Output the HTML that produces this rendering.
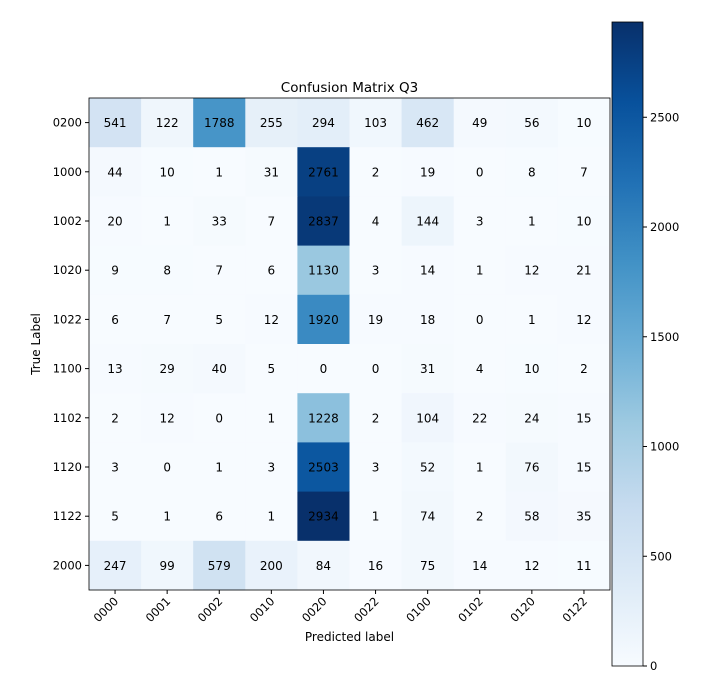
<!DOCTYPE html>
<html><head><meta charset="utf-8"><style>
body{margin:0;background:#fff;}
svg{font-family:"DejaVu Sans","Liberation Sans",sans-serif;}
</style></head><body>
<svg id="c" width="710" height="676" xmlns="http://www.w3.org/2000/svg"></svg>
<script>
const xLabels=["0000","0001","0002","0010","0020","0022","0100","0102","0120","0122"];
const yLabels=["0200","1000","1002","1020","1022","1100","1102","1120","1122","2000"];
const row0=[541,122,1788,255,294,103,462,49,56,10];
const row1=[44,10,1,31,2761,2,19,0,8,7];
const row2=[20,1,33,7,2837,4,144,3,1,10];
const row3=[9,8,7,6,1130,3,14,1,12,21];
const row4=[6,7,5,12,1920,19,18,0,1,12];
const row5=[13,29,40,5,0,0,31,4,10,2];
const row6=[2,12,0,1,1228,2,104,22,24,15];
const row7=[3,0,1,3,2503,3,52,1,76,15];
const row8=[5,1,6,1,2934,1,74,2,58,35];
const row9=[247,99,579,200,84,16,75,14,12,11];
const cbTicks=[0,500,1000,1500,2000,2500];
const matrix=[row0,row1,row2,row3,row4,row5,row6,row7,row8,row9];
const NS="http://www.w3.org/2000/svg";
const svg=document.getElementById('c');
function el(t,a,p){const e=document.createElementNS(NS,t);for(const k in a)e.setAttribute(k,a[k]);(p||svg).appendChild(e);return e;}
const stops=["#f7fbff","#deebf7","#c6dbef","#9ecae1","#6baed6","#4292c6","#2171b5","#08519c","#08306b"].map(h=>[1,3,5].map(i=>parseInt(h.substr(i,2),16)));
function cmap(t){t=Math.max(0,Math.min(1,t))*8;const i=Math.min(7,Math.floor(t)),f=t-i;const a=stops[i],b=stops[i+1];return "rgb("+a.map((v,k)=>Math.round(v+(b[k]-v)*f)).join(",")+")";}
const vmax=Math.max(...matrix.flat()),vmin=0;
const L=89,R=610,T=98,B=590;
const cw=(R-L)/xLabels.length,ch=(B-T)/yLabels.length;
const xs=i=>L+i*cw, ys=j=>T+j*ch;
matrix.forEach((row,j)=>row.forEach((v,i)=>{
  const r=el('rect',{x:xs(i),y:ys(j),width:cw+0.5,height:ch+0.5,fill:cmap((v-vmin)/(vmax-vmin))});
  
  
  const t=el('text',{x:xs(i)+cw/2,y:ys(j)+ch/2+4.5,'text-anchor':'middle','font-size':12,fill:'#000'});
  t.textContent=v;
  
  
}));
el('rect',{x:L,y:T,width:R-L,height:B-T,fill:'none',stroke:'#000','stroke-width':0.8,});
xLabels.forEach((l,i)=>{
  const x=xs(i)+cw/2;
  el('line',{x1:x,y1:B,x2:x,y2:B+4,stroke:'#000'});
  const t=el('text',{x:0,y:0,'text-anchor':'end','font-size':11.5,transform:`translate(${x+4},${B+12}) rotate(-45)`});
  t.textContent=l;
  
  
});
yLabels.forEach((l,j)=>{
  const y=ys(j)+ch/2;
  el('line',{x1:L-4,y1:y,x2:L,y2:y,stroke:'#000'});
  const t=el('text',{x:L-7,y:y+4,'text-anchor':'end','font-size':11.5});
  t.textContent=l;
  
  
});
let t=el('text',{x:(L+R)/2,y:T-6,'text-anchor':'middle','font-size':13.5,});t.textContent="Confusion Matrix Q3";
t=el('text',{x:(L+R)/2,y:641,'text-anchor':'middle','font-size':12,});t.textContent="Predicted label";
t=el('text',{x:0,y:0,'text-anchor':'middle','font-size':12,transform:`translate(40,${(T+B)/2}) rotate(-90)`,});t.textContent="True Label";
// colorbar
const cbL=612,cbR=643,cbT=22,cbB=666;
const defs=el('defs',{});
const g=el('linearGradient',{id:'cb',x1:0,y1:1,x2:0,y2:0},defs);
for(let k=0;k<=8;k++)el('stop',{offset:k/8,'stop-color':cmap(k/8)},g);
el('rect',{x:cbL,y:cbT,width:cbR-cbL,height:cbB-cbT,fill:'url(#cb)',stroke:'#000','stroke-width':0.8,});
const cy=v=>cbB-(v-vmin)/(vmax-vmin)*(cbB-cbT);
cbTicks.forEach(v=>{
  el('line',{x1:cbR,y1:cy(v),x2:cbR+4,y2:cy(v),stroke:'#000'});
  const tt=el('text',{x:cbR+7,y:cy(v)+4,'font-size':11.5});
  tt.textContent=v;
  
  
});
</script>
</body></html>
